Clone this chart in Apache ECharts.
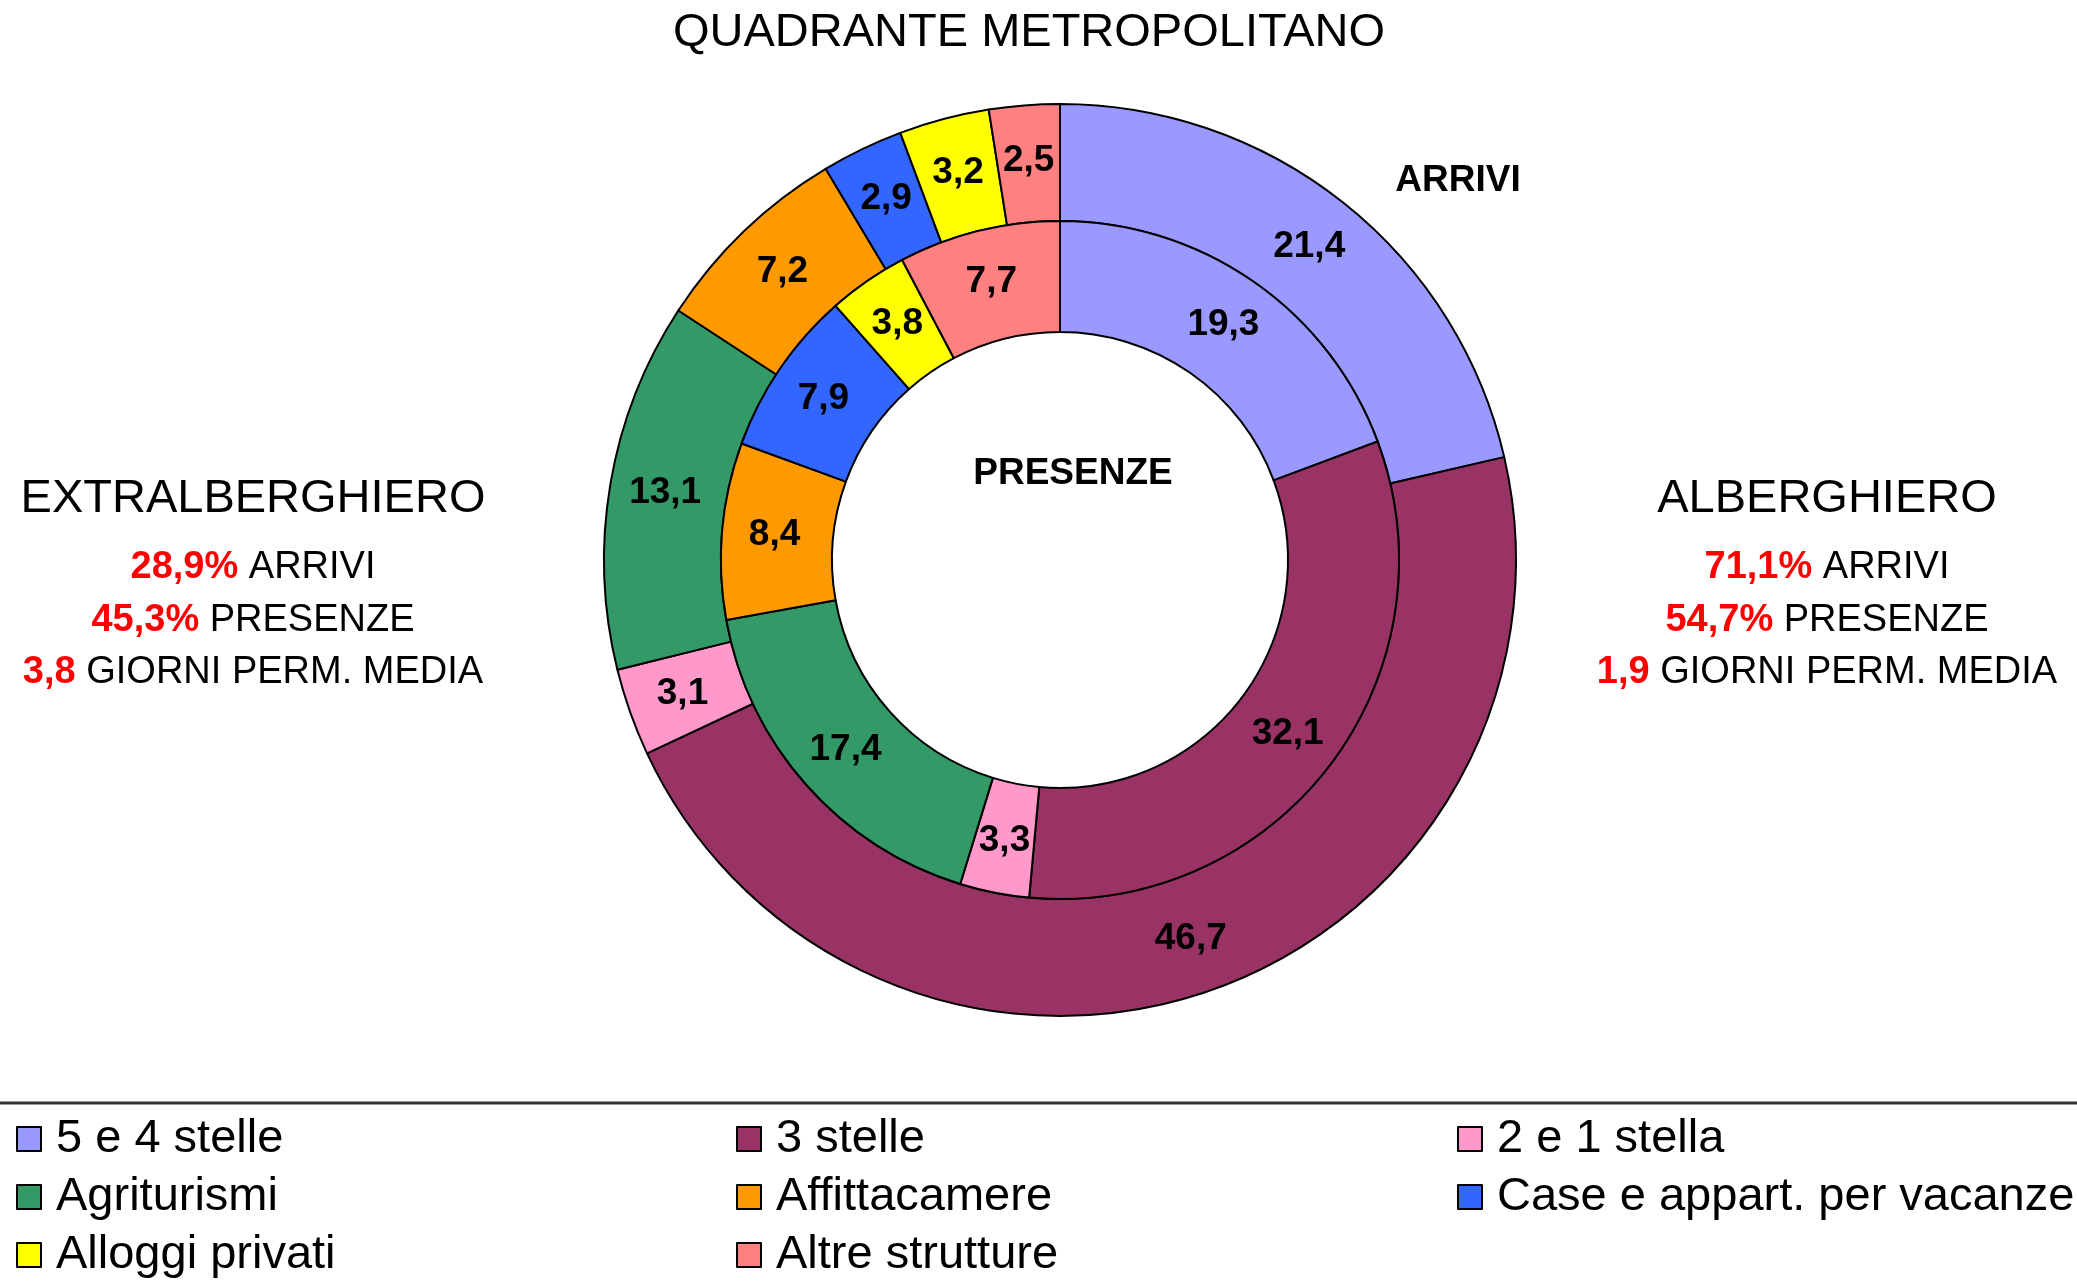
<!DOCTYPE html>
<html>
<head>
<meta charset="utf-8">
<script src="https://cdn.jsdelivr.net/npm/echarts@6/dist/echarts.min.js"></script>
<style>
  html, body { margin: 0; padding: 0; background: #fff; }
  #chart { width: 2077px; height: 1286px; }
</style>
</head>
<body>
<div id="chart"></div>
<script>
// categorie (ordine orario a partire da ore 12)
var categories = ["5 e 4 stelle", "3 stelle", "2 e 1 stella", "Agriturismi",
  "Affittacamere", "Case e appart. per vacanze", "Alloggi privati", "Altre strutture"];
var colors = ["#9999FF", "#993366", "#FF99CC", "#339966",
  "#FF9900", "#3366FF", "#FFFF00", "#FF8080"];
// anello esterno
var arrivi = [21.4, 46.7, 3.1, 13.1, 7.2, 2.9, 3.2, 2.5];
// anello interno
var presenze = [19.3, 32.1, 3.3, 17.4, 8.4, 7.9, 3.8, 7.7];

var FONT = "Liberation Sans, Arial, sans-serif";

function toData(values) {
  return values.map(function (v, i) {
    return { name: categories[i], value: v, itemStyle: { color: colors[i] } };
  });
}

function fmt(p) {
  return p.value.toFixed(1).replace(".", ",");
}

var labelStyle = {
  show: true,
  position: "inside",
  formatter: fmt,
  fontFamily: FONT,
  fontSize: 37,
  fontWeight: "bold",
  color: "#000"
};

var legendBase = {
  orient: "vertical",
  top: 1110,
  itemWidth: 24,
  itemHeight: 24,
  itemGap: 10,
  icon: "rect",
  selectedMode: false,
  textStyle: { fontFamily: FONT, fontSize: 47, color: "#000", lineHeight: 48, padding: [0, 0, 0, 10] }
};

// blocco testo laterale con numeri in rosso
function sideBlock(x, name, a, p, g) {
  var rich = {
    r: { fontFamily: FONT, fontSize: 38, fontWeight: "bold", fill: "#FF0000" },
    k: { fontFamily: FONT, fontSize: 38, fill: "#000" }
  };
  return [
    { type: "text", x: x, y: 499, style: { text: name, font: "47px " + FONT, fill: "#000", align: "center", verticalAlign: "middle" } },
    { type: "text", x: x, y: 568, style: { text: "{r|" + a + "}{k| ARRIVI}", rich: rich, align: "center", verticalAlign: "middle" } },
    { type: "text", x: x, y: 621, style: { text: "{r|" + p + "}{k| PRESENZE}", rich: rich, align: "center", verticalAlign: "middle" } },
    { type: "text", x: x, y: 673, style: { text: "{r|" + g + "}{k| GIORNI PERM. MEDIA}", rich: rich, align: "center", verticalAlign: "middle" } }
  ];
}

var chart = echarts.init(document.getElementById("chart"));
chart.setOption({
  backgroundColor: "#fff",
  animation: false,
  title: {
    text: "QUADRANTE METROPOLITANO",
    left: 1024,
    textAlign: "center",
    top: 5,
    textStyle: { fontFamily: FONT, fontSize: 47, fontWeight: "normal", color: "#000" }
  },
  legend: [
    Object.assign({}, legendBase, { left: 11, data: [categories[0], categories[3], categories[6]] }),
    Object.assign({}, legendBase, { left: 731, data: [categories[1], categories[4], categories[7]] }),
    Object.assign({}, legendBase, { left: 1452, data: [categories[2], categories[5]] })
  ],
  graphic: [
    { type: "line", shape: { x1: 0, y1: 1103, x2: 2077, y2: 1103 }, style: { stroke: "#333", lineWidth: 3 } },
    { type: "text", x: 1458, y: 181, style: { text: "ARRIVI", font: "bold 37px " + FONT, fill: "#000", align: "center", verticalAlign: "middle" } },
    { type: "text", x: 1073, y: 474, style: { text: "PRESENZE", font: "bold 37px " + FONT, fill: "#000", align: "center", verticalAlign: "middle" } }
  ].concat(sideBlock(253, "EXTRALBERGHIERO", "28,9%", "45,3%", "3,8"))
   .concat(sideBlock(1827, "ALBERGHIERO", "71,1%", "54,7%", "1,9")),
  series: [
    {
      name: "ARRIVI",
      type: "pie",
      center: [1060, 560],
      radius: [339, 456],
      startAngle: 90,
      clockwise: true,
      avoidLabelOverlap: false,
      itemStyle: { borderColor: "#000", borderWidth: 2 },
      label: labelStyle,
      labelLine: { show: false },
      emphasis: { disabled: true },
      data: toData(arrivi)
    },
    {
      name: "PRESENZE",
      type: "pie",
      center: [1060, 560],
      radius: [228, 339],
      startAngle: 90,
      clockwise: true,
      avoidLabelOverlap: false,
      itemStyle: { borderColor: "#000", borderWidth: 2 },
      label: labelStyle,
      labelLine: { show: false },
      emphasis: { disabled: true },
      data: toData(presenze)
    }
  ]
});
</script>
</body>
</html>
